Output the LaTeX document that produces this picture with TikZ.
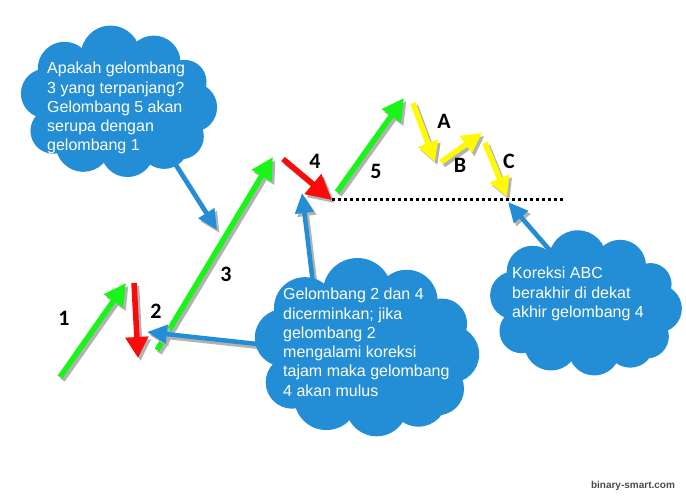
\documentclass[tikz,border=0pt]{standalone}
\usepackage{fontspec}
\setmainfont{Liberation Sans}
\newfontfamily\lblfont{Carlito}
\usetikzlibrary{arrows.meta}
\pgfdeclarelayer{front}
\pgfsetlayers{main,front}
\definecolor{cloudblue}{RGB}{35,142,214}
\definecolor{wavegreen}{RGB}{25,245,25}
\definecolor{wavered}{RGB}{250,10,10}
\definecolor{waveyellow}{RGB}{255,250,0}

% name, centre x, centre y, half width, half height
\newcommand{\puffcloud}[5]{%
  \begin{pgfonlayer}{front}
    \fill[cloudblue] (#2,#3) ellipse ({0.72*#4} and {0.62*#5});
    \foreach \pu/\pv/\pr in {-0.58/-0.49/0.265,-0.09/-0.68/0.295,0.37/-0.58/0.265,
        0.70/-0.30/0.216,0.78/0.07/0.246,0.66/0.49/0.226,0.48/0.60/0.246,
        0.09/0.69/0.265,-0.38/0.60/0.275,-0.70/0.41/0.226,-0.78/-0.13/0.246}
      \fill[cloudblue] (#2+0.93*\pu*#4,#3+0.93*\pv*#5) circle ({1.15*\pr*(#4+#5)/2});
  \end{pgfonlayer}
  \node[inner sep=0pt,minimum width=2*#4pt,minimum height=2*#5pt] (#1) at (#2,#3) {};}

\begin{document}
\begin{tikzpicture}[x=1pt,y=-1pt,
  shadowline/.style={draw=black!30,transform canvas={xshift=2.5pt,yshift=-3pt}},
  wave/.style={line width=5.5pt,-{Triangle[length=22pt,width=22pt]}},
  callout/.style={draw=cloudblue,line width=4.5pt,-{Triangle[length=20pt,width=18pt]}},
  bubbletext/.style={anchor=north west,inner sep=0pt,align=left,text=white,font=\fontsize{16}{19.3}\selectfont},
  wavelbl/.style={font=\lblfont\bfseries\fontsize{22}{22}\selectfont}]
\useasboundingbox (0,0) rectangle (686,500);

\foreach \shd in {shadowline,}{
\draw[wave,wavegreen,\shd] (60,377) -- (126,283);
\draw[wave,wavered,-{Triangle[length=21pt,width=22pt]},\shd] (134,283) -- (138,358);
\draw[wave,wavegreen,\shd] (157,350) -- (273,157);
\draw[wave,wavered,-{Triangle[length=25pt,width=25pt]},\shd] (283,159) -- (332,200);
\draw[wave,wavegreen,\shd] (337,192) -- (404,98);
\draw[wave,waveyellow,-{Triangle[length=20pt,width=20pt]},\shd] (413,103) -- (435,162);
\draw[wave,waveyellow,-{Triangle[length=20pt,width=20pt]},\shd] (441,162) -- (482,133);
\draw[wave,waveyellow,-{Triangle[length=20pt,width=20pt]},\shd] (485,143) -- (507,197);
}
\draw[line width=3pt,dash pattern=on 3pt off 3pt] (332,200) -- (565,200);

\node[wavelbl] (l1) at (64,318) {1};
\node[wavelbl] (l2) at (156,311) {2};
\node[wavelbl] (l3) at (226,274) {3};
\node[wavelbl] (l4) at (315,161) {4};
\node[wavelbl] (l5) at (376,171) {5};
\node[wavelbl] (lA) at (444,121) {A};
\node[wavelbl] (lB) at (460,165) {B};
\node[wavelbl] (lC) at (509,161) {C};

\puffcloud{cloudA}{119}{102.5}{101}{74.5}
\puffcloud{cloudB}{367}{348.5}{115}{88.5}
\puffcloud{cloudC}{586}{304}{99}{71}

\begin{pgfonlayer}{front}
\node[bubbletext] (txtA) at (47,62) {Apakah gelombang\\3 yang terpanjang?\\Gelombang 5 akan\\serupa dengan\\gelombang 1};
\node[bubbletext] (txtB) at (283,288) {Gelombang 2 dan 4\\dicerminkan; jika\\gelombang 2\\mengalami koreksi\\tajam maka gelombang\\4 akan mulus};
\node[bubbletext] (txtC) at (512,267) {Koreksi ABC\\berakhir di dekat\\akhir gelombang 4};
\end{pgfonlayer}

\coordinate (tipA) at (217,230);
\coordinate (tipB) at (302,193);
\coordinate (tipD) at (147,332);
\coordinate (tipC) at (508,202);
\foreach \shd in {shadowline,}{
\draw[callout,\shd] ([shift={(41,37.5)}]cloudA.center) -- (tipA);
\draw[callout,\shd] ([shift={(-52,-48.5)}]cloudB.center) -- (tipB);
\draw[callout,\shd] ([shift={(-82,-1.5)}]cloudB.center) -- (tipD);
\draw[callout,\shd] ([shift={(-26,-42)}]cloudC.center) -- (tipC);
}

\node[font=\bfseries\fontsize{10}{10}\selectfont,text=black!70] (mark) at (633,486) {binary-smart.com};
\end{tikzpicture}
\end{document}
